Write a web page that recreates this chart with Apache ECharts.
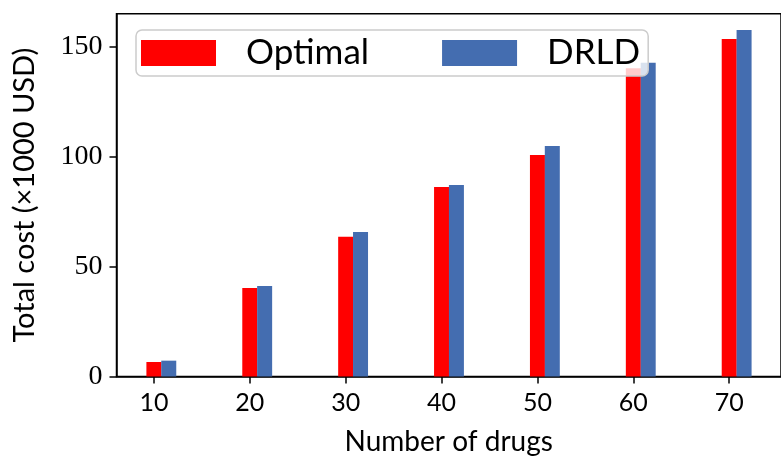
<!DOCTYPE html>
<html>
<head>
<meta charset="utf-8">
<script src="https://cdn.jsdelivr.net/npm/echarts@6/dist/echarts.min.js"></script>
<style>
  html, body { margin: 0; padding: 0; background: #fff; }
  #chart { width: 781px; height: 462px; }
</style>
</head>
<body>
<div id="chart"></div>
<script>
// Number of drugs on the x axis
const drugCounts = [10, 20, 30, 40, 50, 60, 70];
// Total cost in thousands of USD
const optimalCost = [6.6, 40.2, 63.5, 86.1, 100.7, 140.1, 153.4];
const drldCost = [7.2, 41.1, 65.7, 87.0, 104.8, 142.6, 157.5];
const yTicks = [0, 50, 100, 150];

// Second bar of each pair sits one bar-width to the right
const barOffset = 1.55;

const chart = echarts.init(document.getElementById('chart'), null, { renderer: 'canvas' });

const optimalData = drugCounts.map((x, i) => [x, optimalCost[i]]);
const drldData = drugCounts.map((x, i) => [x + barOffset, drldCost[i]]);

chart.setOption({
  animation: false,
  grid: {
    left: 116.5, right: -6.5, top: 13.7, bottom: 85.5,
    show: true, borderColor: '#000', borderWidth: 1.5, backgroundColor: 'transparent'
  },
  legend: {
    top: 30, left: 136,
    itemWidth: 75, itemHeight: 26, itemGap: 73,
    padding: [5, 8, 5, 5],
    backgroundColor: 'rgba(255,255,255,0.8)',
    borderColor: '#cccccc', borderWidth: 1.5, borderRadius: 6,
    icon: 'rect',
    textStyle: { fontFamily: 'Lato', fontSize: 35, lineHeight: 36, color: '#000', padding: [0, 0, 0, 25] },
    data: ['Optimal', 'DRLD']
  },
  xAxis: {
    type: 'value', min: 6.1, max: 75.4,
    name: 'Number of drugs', nameLocation: 'middle', nameGap: 51,
    nameTextStyle: { fontFamily: 'Lato', fontSize: 28, color: '#000' },
    axisLine: { show: true, onZero: false, lineStyle: { color: '#000', width: 1.5 } },
    axisTick: { show: true, length: 7, lineStyle: { color: '#000', width: 1.5 }, customValues: drugCounts },
    axisLabel: { margin: 14, fontFamily: 'Lato', fontSize: 25, color: '#000', customValues: drugCounts },
    splitLine: { show: false }
  },
  yAxis: {
    type: 'value', min: 0, max: 164.9, interval: 50,
    name: 'Total cost (\u00d71000 USD)', nameLocation: 'middle', nameGap: 77,
    nameTextStyle: { fontFamily: 'Lato', fontSize: 29, color: '#000' },
    axisLine: { show: true, lineStyle: { color: '#000', width: 1.5 } },
    axisTick: { show: true, length: 7, lineStyle: { color: '#000', width: 1.5 }, customValues: yTicks },
    axisLabel: { margin: 14, fontFamily: 'Liberation Serif', fontSize: 28, color: '#000', customValues: yTicks },
    splitLine: { show: false }
  },
  series: [
    {
      name: 'Optimal', type: 'bar', data: optimalData,
      barWidth: 15, barGap: '-100%',
      itemStyle: { color: '#ff0000' }
    },
    {
      name: 'DRLD', type: 'bar', data: drldData,
      barWidth: 15, barGap: '-100%',
      itemStyle: { color: '#446db0' }
    }
  ]
});
</script>
</body>
</html>
